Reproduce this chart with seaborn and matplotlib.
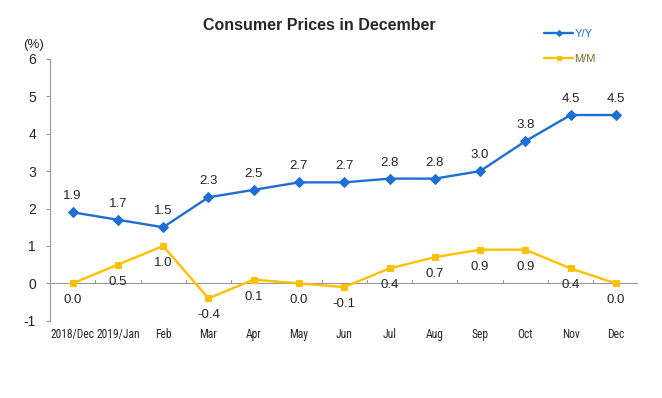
import numpy as np
import pandas as pd
import matplotlib
matplotlib.use("Agg")
import matplotlib.pyplot as plt
from matplotlib import font_manager
import seaborn as sns

# Datos
months = ["2018/Dec", "2019/Jan", "Feb", "Mar", "Apr", "May", "Jun",
          "Jul", "Aug", "Sep", "Oct", "Nov", "Dec"]
yoy = [1.9, 1.7, 1.5, 2.3, 2.5, 2.7, 2.7, 2.8, 2.8, 3.0, 3.8, 4.5, 4.5]
mom = [0.0, 0.5, 1.0, -0.4, 0.1, 0.0, -0.1, 0.4, 0.7, 0.9, 0.9, 0.4, 0.0]
y_ticks = [-1, 0, 1, 2, 3, 4, 5, 6]

blue = "#1D6FD6"
yellow = "#FFC000"

sns.set_style("white")
plt.rcParams['font.family'] = ['Liberation Sans', 'DejaVu Sans']

# Fuente estrecha para las etiquetas del eje x si está disponible
names = {f.name for f in font_manager.fontManager.ttflist}
xfont = dict(fontsize=7.8)
for cand in ["Liberation Sans Narrow", "Roboto Condensed", "Open Sans Condensed",
             "DejaVu Sans Condensed", "Noto Sans Condensed"]:
    if cand in names:
        xfont = dict(family=[cand, "DejaVu Sans"], fontsize=8.3)
        break

df = pd.DataFrame({"month": months, "Y/Y": yoy, "M/M": mom})

fig = plt.figure(figsize=(6.62, 3.98), dpi=100)
ax = fig.add_axes([0.0755, 0.194, 0.889, 0.658])

sns.lineplot(data=df, x="month", y="Y/Y", ax=ax, color=blue, marker="D",
             markersize=5, markeredgecolor=blue, linewidth=1.7, sort=False,
             label="Y/Y")
sns.lineplot(data=df, x="month", y="M/M", ax=ax, color=yellow, marker="s",
             markersize=4.5, markeredgecolor=yellow, linewidth=1.7, sort=False,
             label="M/M")

# Etiquetas de valores
for i, v in enumerate(yoy):
    ax.annotate(f"{v:.1f}", (i, v), xytext=(0, 16), textcoords="offset pixels",
                ha="center", va="center", fontsize=9.5)
for i, v in enumerate(mom):
    ax.annotate(f"{v:.1f}", (i, v), xytext=(0, -17), textcoords="offset pixels",
                ha="center", va="center", fontsize=9.5)

ax.set_ylim(-1, 6)
ax.set_xlim(-0.5, len(months) - 0.5)
ax.set_yticks(y_ticks)
ax.set_yticklabels([str(t) for t in y_ticks], fontsize=10)
ax.set_xticks(range(len(months)))
ax.set_xticklabels(months, **xfont)
ax.tick_params(axis="x", length=0, pad=5)
ax.tick_params(axis="y", length=3, color="#999999", pad=7, left=True)
ax.set_xlabel("")
ax.set_ylabel("")

# Ejes: solo el eje izquierdo y la línea del cero
for s in ["top", "right", "bottom"]:
    ax.spines[s].set_visible(False)
ax.spines["left"].set_color("#999999")
ax.axhline(0, color="#999999", linewidth=0.8, zorder=0)
for b in np.arange(0.5, len(months) - 0.5, 1):
    ax.plot([b, b], [0, 0.1], color="#999999", linewidth=0.8, zorder=0)

fig.text(0.482, 0.935, "Consumer Prices in December", fontsize=11.5,
         fontweight="bold", ha="center", va="center")
fig.text(0.05, 0.888, "(%)", fontsize=9.5, ha="center", va="center")

leg = ax.legend(loc="upper left", bbox_to_anchor=(0.84, 1.113), frameon=False,
                fontsize=8, handlelength=2.6, labelspacing=1.3,
                handletextpad=0.1, markerscale=0.6, borderpad=0,
                borderaxespad=0)
leg.get_texts()[0].set_color(blue)
leg.get_texts()[1].set_color("#7a6a20")

fig.savefig("out.png", dpi=100)
